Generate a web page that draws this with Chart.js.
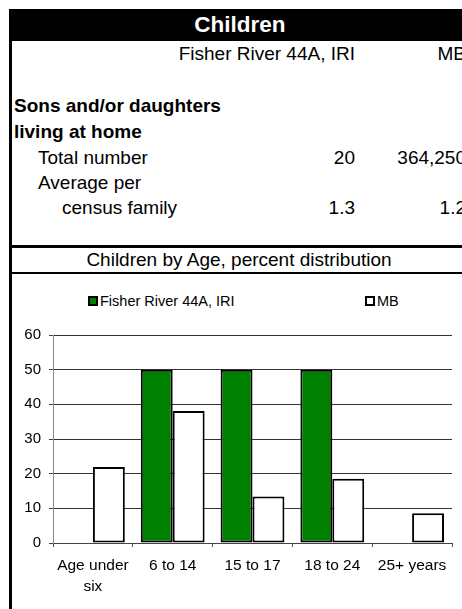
<!DOCTYPE html>
<html>
<head>
<meta charset="utf-8">
<script src="https://cdn.jsdelivr.net/npm/chart.js@4/dist/chart.umd.min.js"></script>
<style>
  html, body { margin: 0; padding: 0; background: #fff; }
  body { width: 462px; height: 609px; overflow: hidden; position: relative;
         font-family: "Liberation Sans", Arial, sans-serif; color: #000; }
  .t { position: absolute; white-space: nowrap; font-size: 19px; line-height: 19px; }
  .r { text-align: right; }
  .b { font-weight: bold; }
  #leftBorder { position: absolute; left: 9px; top: 9px; width: 3px; height: 600px; background: #000; }
  #header { position: absolute; left: 9px; top: 9px; width: 453px; height: 32px; background: #000; }
  #title { position: absolute; left: 9px; width: 462px; text-align: center; top: 14px;
           font-size: 22.5px; line-height: 22px; font-weight: bold; color: #fff; }
  .hline { position: absolute; left: 9px; width: 453px; background: #000; }
  #chartWrap { position: absolute; left: 12px; top: 274px; width: 450px; height: 335px; }
  .leg { position: absolute; top: 294px; font-size: 14.5px; line-height: 14.5px; white-space: nowrap; }
  .legbox { position: absolute; top: 296px; width: 6px; height: 6px; border: 2px solid #000; }
</style>
</head>
<body>
<div id="leftBorder"></div>
<div id="header"></div>
<div id="title">Children</div>

<div class="t r" style="right:107px; top:44px;">Fisher River 44A, IRI</div>
<div class="t r" style="right:-4px; top:44px;">MB</div>

<div class="t b" style="left:14px; top:96px;">Sons and/or daughters</div>
<div class="t b" style="left:14px; top:122px;">living at home</div>
<div class="t" style="left:38px; top:148px;">Total number</div>
<div class="t r" style="right:107px; top:148px;" id="v1a"></div>
<div class="t r" style="right:-4px; top:148px;" id="v1b"></div>
<div class="t" style="left:38px; top:173px;">Average per</div>
<div class="t" style="left:62px; top:198px;">census family</div>
<div class="t r" style="right:107px; top:198px;" id="v2a"></div>
<div class="t r" style="right:-4px; top:198px;" id="v2b"></div>

<div class="hline" style="top:245px; height:3px;"></div>
<div class="t" style="left:9px; width:460px; text-align:center; top:250px;">Children by Age, percent distribution</div>
<div class="hline" style="top:272px; height:2px;"></div>

<div class="legbox" id="lb1" style="left:88px;"></div>
<div class="leg" id="lt1" style="left:100px;"></div>
<div class="legbox" id="lb2" style="left:365px;"></div>
<div class="leg" id="lt2" style="left:377px;"></div>

<div id="chartWrap"><canvas id="c" width="450" height="335"></canvas></div>

<script>
// ---- data ----
const seriesNames = ["Fisher River 44A, IRI", "MB"];
const totalNumber = ["20", "364,250"];
const avgPerFamily = ["1.3", "1.2"];
const categories = [["Age under", "six"], "6 to 14", "15 to 17", "18 to 24", "25+ years"];
const fisherValues = [0, 50, 50, 50, 0];
const mbValues = [21.9, 38.1, 13.4, 18.5, 8.6];
const yTicks = [0, 10, 20, 30, 40, 50, 60];
const seriesColors = ["#008000", "#ffffff"];

document.getElementById("v1a").textContent = totalNumber[0];
document.getElementById("v1b").textContent = totalNumber[1];
document.getElementById("v2a").textContent = avgPerFamily[0];
document.getElementById("v2b").textContent = avgPerFamily[1];
document.getElementById("lt1").textContent = seriesNames[0];
document.getElementById("lt2").textContent = seriesNames[1];
document.getElementById("lb1").style.background = seriesColors[0];
document.getElementById("lb2").style.background = seriesColors[1];

const FONT = "'Liberation Sans', Arial, sans-serif";

new Chart(document.getElementById("c"), {
  type: "bar",
  data: {
    labels: categories,
    datasets: [
      { label: seriesNames[0], data: fisherValues, backgroundColor: seriesColors[0],
        borderColor: "#000", borderWidth: 2, borderSkipped: false },
      { label: seriesNames[1], data: mbValues, backgroundColor: seriesColors[1],
        borderColor: "#000", borderWidth: 2, borderSkipped: false }
    ]
  },
  options: {
    responsive: false,
    animation: false,
    devicePixelRatio: 1,
    layout: { padding: { top: 61, right: 10, left: 0, bottom: 0 } },
    plugins: { legend: { display: false }, tooltip: { enabled: false }, title: { display: false } },
    datasets: { bar: { categoryPercentage: 0.8, barPercentage: 1.0 } },
    scales: {
      x: {
        grid: { offset: true, drawOnChartArea: false, drawTicks: true, tickLength: 4, color: "#555" },
        border: { display: true, color: "#444", width: 1 },
        ticks: { color: "#000", padding: 9, maxRotation: 0, autoSkip: false,
                 font: { family: FONT, size: 15.5, lineHeight: 1.3 } },
        afterFit: (s) => { s.height = 66; }
      },
      y: {
        min: yTicks[0], max: yTicks[yTicks.length - 1],
        afterBuildTicks: (s) => { s.ticks = yTicks.map(v => ({ value: v })); },
        grid: { color: "#333", drawTicks: true, tickLength: 4, tickColor: "#444" },
        border: { display: true, color: "#888", width: 1 },
        ticks: { color: "#000", padding: 8, font: { family: FONT, size: 15 } },
        afterFit: (s) => { s.width = 41; }
      }
    }
  }
});
</script>
</body>
</html>
